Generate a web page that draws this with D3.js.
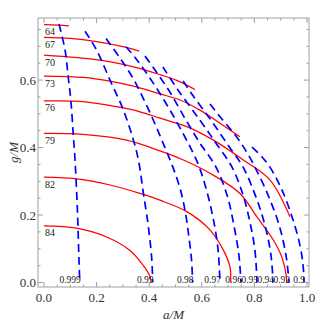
<!DOCTYPE html>
<html>
<head>
<meta charset="utf-8">
<script src="https://cdn.jsdelivr.net/npm/d3@7"></script>
<style>
  body { margin: 0; background: #fff; }
  text { font-family: "Liberation Serif", "DejaVu Serif", serif; }
</style>
</head>
<body>
<script>

var width = 327
var height = 322

// red contours (label, then [a, g] points)
var redLabels = ["64", "67", "70", "73", "76", "79", "82", "84"]
var red64 = [[0, 0.764], [0.05, 0.763], [0.095, 0.761]]
var red67 = [[0, 0.7265], [0.1, 0.7235], [0.2, 0.714], [0.3, 0.699], [0.362, 0.686]]
var red70 = [[0, 0.674], [0.213, 0.659], [0.34, 0.639], [0.441, 0.616], [0.505, 0.599], [0.574, 0.572]]
var red73 = [[0, 0.612], [0.149, 0.608], [0.251, 0.597], [0.34, 0.582], [0.441, 0.559], [0.517, 0.541], [0.593, 0.511], [0.669, 0.472], [0.745, 0.432]]
var red76 = [[0, 0.538], [0.149, 0.536], [0.276, 0.521], [0.365, 0.506], [0.441, 0.487], [0.543, 0.462], [0.644, 0.422], [0.758, 0.363], [0.859, 0.304], [0.935, 0.195]]
var red79 = [[0, 0.442], [0.149, 0.439], [0.314, 0.422], [0.441, 0.39], [0.53, 0.363], [0.631, 0.324], [0.745, 0.264], [0.809, 0.195], [0.872, 0.126], [0.904, 0.076], [0.921, 0.02], [0.923, 0]]
var red82 = [[0, 0.312], [0.124, 0.307], [0.251, 0.289], [0.365, 0.264], [0.441, 0.244], [0.543, 0.21], [0.631, 0.156], [0.682, 0.096], [0.707, 0.047], [0.71, 0.012], [0.71, 0]]
var red84 = [[0, 0.168], [0.124, 0.161], [0.238, 0.135], [0.327, 0.095], [0.378, 0.05], [0.403, 0.018], [0.407, 0]]
var redSeries = [red64, red67, red70, red73, red76, red79, red82, red84]

// blue dashed contours
var blueLabels = ["0.999", "0.99", "0.98", "0.97", "0.96", "0.95", "0.94", "0.92", "0.9"]
var blue999 = [[0.057, 0.766], [0.08, 0.689], [0.092, 0.61], [0.102, 0.541], [0.111, 0.442], [0.118, 0.363], [0.127, 0.215], [0.133, 0.067], [0.136, 0]]
var blue99 = [[0.156, 0.745], [0.2, 0.689], [0.251, 0.6], [0.302, 0.511], [0.34, 0.422], [0.359, 0.363], [0.378, 0.264], [0.397, 0.165], [0.41, 0.067], [0.413, 0]]
var blue98 = [[0.236, 0.723], [0.289, 0.665], [0.338, 0.606], [0.384, 0.535], [0.422, 0.47], [0.456, 0.407], [0.49, 0.342], [0.519, 0.274], [0.538, 0.206], [0.551, 0.135], [0.561, 0.067], [0.565, 0]]
var blue97 = [[0.312, 0.699], [0.354, 0.659], [0.418, 0.588], [0.479, 0.511], [0.536, 0.431], [0.586, 0.351], [0.62, 0.268], [0.646, 0.179], [0.662, 0.096], [0.669, 0]]
var blue96 = [[0.384, 0.671], [0.422, 0.63], [0.479, 0.564], [0.54, 0.481], [0.593, 0.413], [0.654, 0.342], [0.696, 0.259], [0.722, 0.17], [0.741, 0.081], [0.749, 0]]
var blue95 = [[0.452, 0.639], [0.51, 0.57], [0.593, 0.481], [0.654, 0.413], [0.715, 0.342], [0.757, 0.259], [0.783, 0.179], [0.802, 0.096], [0.81, 0]]
var blue94 = [[0.529, 0.597], [0.57, 0.55], [0.635, 0.481], [0.7, 0.407], [0.757, 0.342], [0.806, 0.253], [0.84, 0.17], [0.863, 0.081], [0.871, 0]]
var blue92 = [[0.631, 0.529], [0.677, 0.484], [0.73, 0.434], [0.768, 0.39], [0.802, 0.342], [0.852, 0.259], [0.894, 0.17], [0.92, 0.081], [0.932, 0]]
var blue90 = [[0.791, 0.401], [0.829, 0.372], [0.859, 0.342], [0.905, 0.274], [0.947, 0.185], [0.973, 0.111], [0.985, 0.052], [0.989, 0]]
var blueSeries = [blue999, blue99, blue98, blue97, blue96, blue95, blue94, blue92, blue90]

var xTickLabels = ["0.0", "0.2", "0.4", "0.6", "0.8", "1.0"]
var yTickLabels = ["0.0", "0.2", "0.4", "0.6"]

var frame = { left: 38, right: 309, top: 18, bottom: 287 }

var svg = d3.select("body")
            .append("svg")
            .attr("width", width)
            .attr("height", height)

var x = d3.scaleLinear().domain([-0.0228, 1.0076]).range([frame.left, frame.right])
var y = d3.scaleLinear().domain([-0.0133, 0.784]).range([frame.bottom, frame.top])

svg.append("clipPath")
    .attr("id", "clip")
  .append("rect")
    .attr("x", frame.left)
    .attr("y", frame.top)
    .attr("width", frame.right - frame.left)
    .attr("height", frame.bottom - frame.top)

var line = d3.line()
    .x(function(d){ return x(d[0]) })
    .y(function(d){ return y(d[1]) })
    .curve(d3.curveCatmullRom.alpha(0.5))

var plot = svg.append("g").attr("clip-path", "url(#clip)")

plot.selectAll("path.red")
    .data(redSeries)
    .enter()
    .append("path")
    .classed("red", true)
    .attr("d", line)
    .attr("fill", "none")
    .attr("stroke", "#ff0000")
    .attr("stroke-width", 1.25)

plot.selectAll("path.blue")
    .data(blueSeries)
    .enter()
    .append("path")
    .classed("blue", true)
    .attr("d", line)
    .attr("fill", "none")
    .attr("stroke", "#0000ff")
    .attr("stroke-width", 1.7)
    .attr("stroke-dasharray", "8,5")

// contour labels
plot.selectAll("text.rlab")
    .data(redSeries)
    .enter()
    .append("text")
    .classed("rlab", true)
    .attr("x", function(d){ return x(d[0][0]) + 1 })
    .attr("y", function(d){ return y(d[0][1]) + 10.5 })
    .attr("font-size", 10)
    .attr("fill", "#222")
    .text(function(d, i){ return redLabels[i] })

plot.selectAll("text.blab")
    .data(blueSeries)
    .enter()
    .append("text")
    .classed("blab", true)
    .attr("x", function(d){ return x(d[d.length - 1][0]) + 1 })
    .attr("y", y(0))
    .attr("text-anchor", "end")
    .attr("font-size", 9.5)
    .attr("fill", "#222")
    .text(function(d, i){ return blueLabels[i] })

// frame and ticks
svg.append("rect")
    .attr("x", frame.left)
    .attr("y", frame.top)
    .attr("width", frame.right - frame.left)
    .attr("height", frame.bottom - frame.top)
    .attr("fill", "none")
    .attr("stroke", "#a0a0a0")
    .attr("stroke-width", 1)

var xMinor = d3.range(0, 21).map(function(i){ return i * 0.05 })
var yMinor = d3.range(0, 16).map(function(i){ return i * 0.05 })

function tickLen(v) {
  return Math.abs(Math.round(v * 100) % 20) === 0 ? 5 : 2.5
}

var ticks = svg.append("g").attr("stroke", "#a0a0a0").attr("stroke-width", 1)

xMinor.forEach(function(v){
  var px = x(v)
  ticks.append("line").attr("x1", px).attr("x2", px)
    .attr("y1", frame.bottom).attr("y2", frame.bottom - tickLen(v))
  ticks.append("line").attr("x1", px).attr("x2", px)
    .attr("y1", frame.top).attr("y2", frame.top + tickLen(v))
})

yMinor.forEach(function(v){
  var py = y(v)
  ticks.append("line").attr("y1", py).attr("y2", py)
    .attr("x1", frame.left).attr("x2", frame.left + tickLen(v))
  ticks.append("line").attr("y1", py).attr("y2", py)
    .attr("x1", frame.right).attr("x2", frame.right - tickLen(v))
})

svg.selectAll("text.xt")
    .data(xTickLabels)
    .enter()
    .append("text")
    .classed("xt", true)
    .attr("x", function(d){ return x(+d) })
    .attr("y", frame.bottom + 14.5)
    .attr("text-anchor", "middle")
    .attr("font-size", 13)
    .attr("fill", "#333")
    .text(function(d){ return d })

svg.selectAll("text.yt")
    .data(yTickLabels)
    .enter()
    .append("text")
    .classed("yt", true)
    .attr("x", frame.left - 2)
    .attr("y", function(d){ return y(+d) + 4.5 })
    .attr("text-anchor", "end")
    .attr("font-size", 13)
    .attr("fill", "#333")
    .text(function(d){ return d })

svg.append("text")
    .attr("x", (frame.left + frame.right) / 2)
    .attr("y", 319)
    .attr("text-anchor", "middle")
    .attr("font-size", 13)
    .attr("font-style", "italic")
    .attr("fill", "#333")
    .text("a/M")

svg.append("text")
    .attr("transform", "translate(18," + ((frame.top + frame.bottom) / 2) + ") rotate(-90)")
    .attr("text-anchor", "middle")
    .attr("font-size", 13)
    .attr("font-style", "italic")
    .attr("fill", "#333")
    .text("g/M")

</script>
</body>
</html>
